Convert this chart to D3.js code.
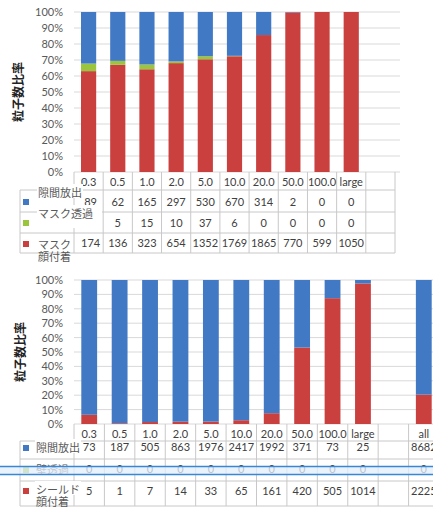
<!DOCTYPE html>
<html>
<head>
<meta charset="utf-8">
<script src="https://cdn.jsdelivr.net/npm/d3@7"></script>
<style>
  html, body { margin: 0; padding: 0; background: #fff; }
  svg { display: block; }
  text { font-family: "Lato", "Liberation Sans", "Noto Sans CJK JP", sans-serif; }
</style>
</head>
<body>
<svg id="chart" width="433" height="508"></svg>
<script>
// Particle size classes (µm)
const sizes = ["0.3", "0.5", "1.0", "2.0", "5.0", "10.0", "20.0", "50.0", "100.0", "large"];

// Mask case: particle counts per size class
const maskGap     = [89, 62, 165, 297, 530, 670, 314, 2, 0, 0];
const maskThrough = [13, 5, 15, 10, 37, 6, 0, 0, 0, 0];
const maskAttach  = [174, 136, 323, 654, 1352, 1769, 1865, 770, 599, 1050];

// Shield case: particle counts per size class, plus the total column
const shieldCats    = [...sizes, "", "all"];
const shieldGap     = [73, 187, 505, 863, 1976, 2417, 1992, 371, 73, 25, null, 8682];
const shieldThrough = [0, 0, 0, 0, 0, 0, 0, 0, 0, 0, null, 0];
const shieldAttach  = [5, 1, 7, 14, 33, 65, 161, 420, 505, 1014, null, 2225];

const pctTicks = [0, 0.1, 0.2, 0.3, 0.4, 0.5, 0.6, 0.7, 0.8, 0.9, 1.0];

const maskLabels   = [["隙間放出"], ["マスク透過"], ["マスク", "顔付着"]];
const shieldLabels = [["隙間放出"], ["壁透過"], ["シールド", "顔付着"]];

const colors = { gap: "#4279c4", through: "#9bc53d", attach: "#c9403f" };
const gridColor = "#d9d9d9";
const tableLine = "#c8c8c8";
const textColor = "#404040";
const tickColor = "#595959";

const svg = d3.select("#chart");

function drawPanel(opt) {
  const g = svg.append("g");
  const cats = opt.cats;
  const x = d3.scaleBand().domain(d3.range(cats.length))
    .range([opt.x0, opt.x1]).paddingInner(0.48).paddingOuter(0.24);
  const step = x.step();
  const cellLeft = i => x(i) - step * 0.24;
  const y = d3.scaleLinear().domain([0, 1]).range([opt.yBottom, opt.yTop]);

  // gridlines
  g.append("g").selectAll("line").data(pctTicks).join("line")
    .attr("x1", opt.x0).attr("x2", opt.gridRight)
    .attr("y1", d => y(d)).attr("y2", d => y(d))
    .attr("stroke", gridColor).attr("stroke-width", 1);

  // y axis labels
  const yAxis = d3.axisLeft(y).tickValues(pctTicks).tickFormat(d3.format(".0%")).tickSize(0).tickPadding(0);
  const ax = g.append("g").attr("transform", `translate(${opt.x0 - 11},0)`).call(yAxis);
  ax.select(".domain").remove();
  ax.selectAll("text").attr("fill", tickColor).style("font-size", "11px")
    .style("font-family", "Lato, 'Liberation Sans', sans-serif");

  // axis title
  g.append("text")
    .attr("transform", `translate(${opt.titleX},${opt.titleY}) rotate(-90)`)
    .attr("text-anchor", "middle").attr("dominant-baseline", "middle")
    .attr("font-size", 12).attr("font-weight", "bold").attr("fill", "#222")
    .style("font-family", "'Noto Sans CJK JP', sans-serif")
    .text("粒子数比率");

  // stacked percentage bars (attach bottom, through middle, gap top)
  const rows = cats.map((c, i) => ({
    i, attach: opt.attach[i], through: opt.through[i], gap: opt.gap[i]
  })).filter(d => d.gap != null);
  rows.forEach(d => {
    const tot = d.attach + d.through + d.gap;
    d.attachP = d.attach / tot; d.throughP = d.through / tot; d.gapP = d.gap / tot;
  });
  const stack = d3.stack().keys(["attachP", "throughP", "gapP"]);
  const series = stack(rows);
  const keyColor = { attachP: colors.attach, throughP: colors.through, gapP: colors.gap };
  g.append("g").selectAll("g").data(series).join("g")
    .attr("fill", s => keyColor[s.key])
    .selectAll("rect").data(s => s).join("rect")
    .attr("x", d => x(d.data.i)).attr("width", x.bandwidth())
    .attr("y", d => y(d[1])).attr("height", d => y(d[0]) - y(d[1]));

  // data table
  const t = g.append("g");
  const rowY = opt.rowLines;           // horizontal row boundaries under the header
  const tableRight = cellLeft(cats.length - 1) + step;
  // vertical lines between columns
  const vx = d3.range(cats.length + 1).map(i => cellLeft(0) + i * step);
  t.selectAll("line.v").data(vx).join("line").attr("class", "v")
    .attr("x1", d => d).attr("x2", d => d)
    .attr("y1", opt.yBottom).attr("y2", rowY[rowY.length - 1])
    .attr("stroke", tableLine);
  // horizontal lines
  t.selectAll("line.h").data(rowY).join("line").attr("class", "h")
    .attr("x1", opt.legendLeft).attr("x2", Math.min(tableRight, 433))
    .attr("y1", d => d).attr("y2", d => d)
    .attr("stroke", tableLine);
  // left border of label column
  t.append("line").attr("x1", opt.legendLeft).attr("x2", opt.legendLeft)
    .attr("y1", rowY[0]).attr("y2", rowY[rowY.length - 1]).attr("stroke", tableLine);

  // header: category names
  t.selectAll("text.hd").data(cats).join("text").attr("class", "hd")
    .attr("x", (d, i) => x(i) + x.bandwidth() / 2).attr("y", opt.headerY)
    .attr("text-anchor", "middle").attr("dominant-baseline", "middle")
    .attr("font-size", 11).attr("fill", textColor).text(d => d);

  const valueRows = [opt.gap, opt.through, opt.attach];
  valueRows.forEach((vals, r) => {
    t.append("g").selectAll("text").data(vals).join("text")
      .attr("x", (d, i) => x(i) + x.bandwidth() / 2 + (i === 0 ? opt.firstShift : 0))
      .attr("y", opt.valueY[r])
      .attr("text-anchor", "middle").attr("dominant-baseline", "middle")
      .attr("font-size", 11).attr("fill", textColor)
      .text(d => d == null ? "" : d);
  });

  // legend: keys and row labels, drawn over the first column
  const legendColors = [colors.gap, colors.through, colors.attach];
  opt.labels.forEach((lines, r) => {
    t.append("rect").attr("x", opt.legendLeft + 3).attr("y", opt.keyY[r] - 3)
      .attr("width", 6).attr("height", 6).attr("fill", legendColors[r]);
    const lbl = t.append("g");
    const txt = lbl.append("text").attr("x", opt.labelX).attr("y", opt.labelY[r])
      .attr("font-size", 11).attr("fill", tickColor)
      .style("font-family", "'Noto Sans CJK JP', sans-serif");
    lines.forEach((ln, k) => {
      txt.append("tspan").attr("x", opt.labelX).attr("dy", k === 0 ? 0 : 12).text(ln);
    });
    const bb = txt.node().getBBox();
    const pad = opt.labelPad[r];
    lbl.insert("rect", "text").attr("x", bb.x - 1).attr("y", bb.y)
      .attr("width", bb.width + 2 + pad[0]).attr("height", Math.min(bb.height, 14) + pad[1])
      .attr("fill", "#fff");
  });
  return { x, y, t };
}

// Mask panel
drawPanel({
  cats: [...sizes, ""],
  gap: [...maskGap, null], through: [...maskThrough, null], attach: [...maskAttach, null],
  x0: 74, x1: 395, gridRight: 400,
  yTop: 12, yBottom: 172,
  titleX: 20, titleY: 92,
  headerY: 183,
  rowLines: [190, 212, 233, 253],
  valueY: [203, 224, 244],
  keyY: [202, 223, 244],
  labelX: 38, labelY: [197, 218, 249],
  labelPad: [[0, 0], [8, 9], [0, 0]],
  legendLeft: 20, firstShift: 2,
  labels: maskLabels
});

// Shield panel
drawPanel({
  cats: shieldCats,
  gap: shieldGap, through: shieldThrough, attach: shieldAttach,
  x0: 74, x1: 439, gridRight: 433,
  yTop: 280, yBottom: 424,
  titleX: 22, titleY: 352,
  headerY: 435,
  rowLines: [441, 459, 481, 506],
  valueY: [448, 470, 492],
  keyY: [448, 470, 491],
  labelX: 36, labelY: [452, 474, 494],
  labelPad: [[0, 0], [0, 0], [0, 0]],
  legendLeft: 20, firstShift: 0,
  labels: shieldLabels
});

// highlighted row band across the shield table
svg.append("rect").attr("x", -2).attr("y", 466.5).attr("width", 437).attr("height", 8)
  .attr("fill", "#e3eefa").attr("fill-opacity", 0.75)
  .attr("stroke", "#3a86d6").attr("stroke-width", 1.5);
</script>
</body>
</html>
